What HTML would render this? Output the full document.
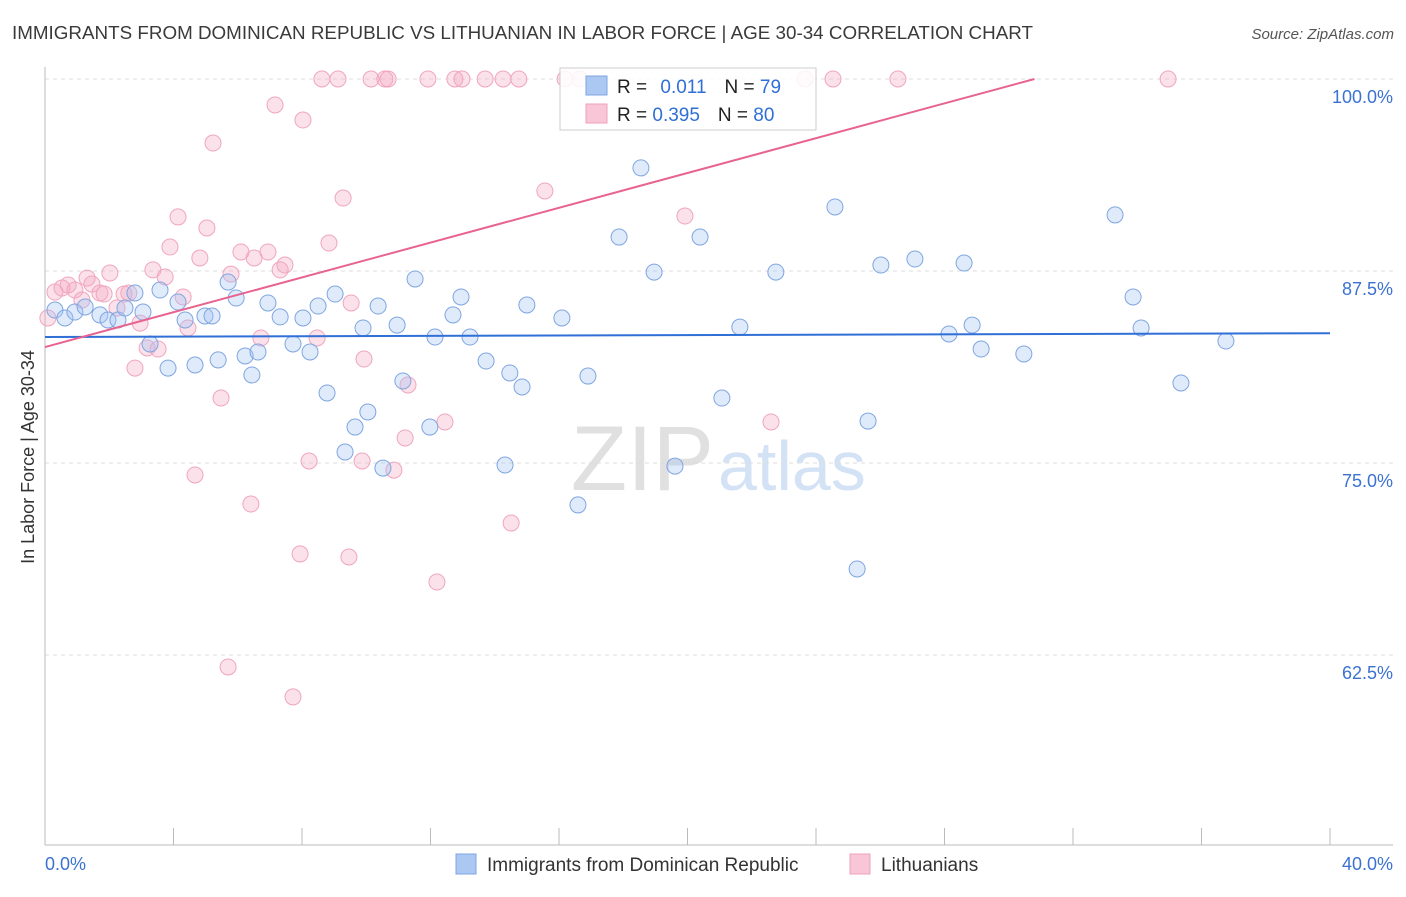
<!DOCTYPE html>
<html><head><meta charset="utf-8"><style>
body{margin:0;background:#fff;font-family:"Liberation Sans",sans-serif;}
svg text{font-family:"Liberation Sans",sans-serif;}
</style></head><body>
<svg id="chart" width="1406" height="892">
<text x="12" y="39" font-size="18" fill="#3a3a3a" textLength="1021" lengthAdjust="spacingAndGlyphs">IMMIGRANTS FROM DOMINICAN REPUBLIC VS LITHUANIAN IN LABOR FORCE | AGE 30-34 CORRELATION CHART</text>
<text x="1394" y="39" font-size="15" fill="#555" font-style="italic" text-anchor="end">Source: ZipAtlas.com</text>
<text x="714" y="490" font-size="92" fill="#e0e0e0" text-anchor="end" font-family="Liberation Serif">ZIP</text>
<text x="718" y="490" font-size="70" fill="#d3e2f5">atlas</text>
<text transform="translate(34,457) rotate(-90)" font-size="18" fill="#333" text-anchor="middle">In Labor Force | Age 30-34</text>
<g id="grid"></g><g id="pts"></g><g id="lines"></g>
<g>
<rect x="560" y="68" width="256" height="62" fill="#fff" fill-opacity="0.85" stroke="#ccc"/>
<rect x="586" y="76" width="21" height="19" fill="#aac8f2" stroke="#7fa6e0"/>
<rect x="586" y="104" width="21" height="19" fill="#f8c6d6" stroke="#f0a0bb"/>
<text x="617" y="93" font-size="19" fill="#222">R = <tspan fill="#2f6fd6" dx="8">0.011</tspan><tspan fill="#222" dx="18">N = </tspan><tspan fill="#2f6fd6">79</tspan></text>
<text x="617" y="121" font-size="19" fill="#222">R = <tspan fill="#2f6fd6">0.395</tspan><tspan fill="#222" dx="18">N = </tspan><tspan fill="#2f6fd6">80</tspan></text>
</g>
<g>
<rect x="456" y="854" width="20" height="20" fill="#aac8f2" stroke="#7fa6e0"/>
<text x="487" y="871" font-size="19" fill="#333">Immigrants from Dominican Republic</text>
<rect x="850" y="854" width="20" height="20" fill="#f8c6d6" stroke="#f0a0bb"/>
<text x="881" y="871" font-size="19" fill="#333">Lithuanians</text>
</g>
</svg>
<script>
const yTicks=[100,87.5,75,62.5];
const yTickLabels=["100.0%","87.5%","75.0%","62.5%"];
const xTickLabels=["0.0%","40.0%"];
const blueX=[.31,.62,.93,1.25,1.71,1.96,2.27,2.49,2.80,3.05,3.27,3.58,3.83,4.14,4.36,4.67,4.98,5.20,5.39,5.70,5.95,6.23,6.44,6.63,6.94,7.32,7.72,8.03,8.25,8.50,8.78,9.03,9.34,9.65,9.90,10.05,10.37,10.52,10.96,11.14,11.52,11.98,12.14,12.70,12.95,13.23,13.73,14.32,14.47,14.85,15.00,16.09,16.59,16.90,17.87,18.55,18.96,19.61,20.39,21.07,21.63,22.75,24.59,25.62,25.28,26.02,27.08,28.14,28.61,28.86,29.14,30.47,33.31,33.87,34.12,35.36,36.76];
const blueY=[84.96,84.44,84.83,85.16,84.64,84.31,84.31,85.09,86.07,84.83,82.75,86.26,81.18,85.48,84.31,81.38,84.57,84.57,81.71,86.78,85.74,81.97,80.73,82.23,85.42,84.51,82.75,84.44,82.23,85.22,79.56,86.00,75.72,77.34,83.79,78.32,85.22,74.67,83.98,80.34,86.98,77.34,83.20,84.64,85.81,83.20,81.64,74.87,80.86,79.95,85.29,84.44,72.27,80.66,89.71,94.21,87.43,74.80,89.71,79.23,83.85,87.43,91.67,77.73,68.10,87.89,88.28,83.40,88.02,83.98,82.42,82.10,91.15,85.81,83.79,80.21,82.94];
const pinkX=[.09,.31,.53,.72,.93,1.15,1.31,1.46,1.71,1.84,2.02,2.24,2.46,2.61,2.80,2.96,3.18,3.36,3.52,3.74,3.89,4.14,4.30,4.45,4.67,4.82,5.04,5.23,5.48,5.70,5.79,6.10,6.41,6.51,6.72,6.94,7.16,7.32,7.47,7.72,7.94,8.03,8.22,8.47,8.62,9.12,9.28,9.46,9.53,8.84,9.87,9.93,10.15,10.58,10.68,10.86,11.21,11.30,11.92,12.20,12.45,12.76,12.98,13.70,14.26,14.51,14.75,15.56,16.19,16.65,19.92,22.60,23.66,24.53,26.55,34.96];
const pinkY=[84.44,86.13,86.39,86.59,86.26,85.61,87.04,86.65,86.07,86.00,87.37,85.09,86.00,86.07,81.18,84.11,82.49,87.57,82.42,87.11,89.06,91.02,85.81,83.79,74.22,88.35,90.30,95.83,79.23,61.72,87.30,88.74,72.33,88.35,83.14,88.74,98.31,87.57,87.89,59.77,69.08,97.33,75.13,83.14,100,100,92.25,68.88,85.42,89.32,75.13,81.77,100,100,100,74.54,76.63,80.08,100,67.25,77.67,100,100,100,100,71.09,100,92.71,100,100,91.08,77.67,100,100,100,100];
const blueTrend=[83.2,83.45];
const pinkTrend=[82.55,100];
const pinkTrendEndX=30.8;
const NS="http://www.w3.org/2000/svg";
const X0=45,X1=1330,Y100=79,PX=15.36;
const xs=v=>X0+(v/40)*(X1-X0);
const ys=v=>Y100+(100-v)*PX;
function mk(t,a,p){const e=document.createElementNS(NS,t);for(const k in a)e.setAttribute(k,a[k]);p.appendChild(e);return e;}
const grid=document.getElementById('grid');
yTicks.forEach((t,i)=>{
 const g=mk('line',{x1:X0,x2:1393,y1:ys(t),y2:ys(t),stroke:'#ddd','stroke-dasharray':'4,4'},grid);
 
 
 const l=mk('text',{x:1393,y:ys(t)+24,'font-size':18,fill:'#3b72d1','text-anchor':'end'},grid);
 l.textContent=yTickLabels[i];
 
 
});
const ax=mk('line',{x1:X0,x2:1393,y1:845,y2:845,stroke:'#bbb'},grid);


const yax=mk('line',{x1:X0,x2:X0,y1:67,y2:845,stroke:'#bbb'},grid);


for(let i=0;i<=10;i++){const t=mk('line',{x1:xs(i*4),x2:xs(i*4),y1:828,y2:845,stroke:'#bbb'},grid);
 
 }
[[0,'start',45],[1,'end',1393]].forEach(([i,a,x])=>{const t=mk('text',{x:x,y:870,'font-size':18,fill:'#3b72d1','text-anchor':a},grid);t.textContent=xTickLabels[i];
 
 });
const pts=document.getElementById('pts');
pinkX.forEach((v,i)=>{const c=mk('circle',{cx:xs(v),cy:ys(pinkY[i]),r:8,fill:'rgba(244,170,195,0.35)',stroke:'#f0a5bf','stroke-width':1},pts);
 
 });
blueX.forEach((v,i)=>{const c=mk('circle',{cx:xs(v),cy:ys(blueY[i]),r:8,fill:'rgba(164,194,244,0.35)',stroke:'#7fa6e0','stroke-width':1},pts);
 
 });
const lines=document.getElementById('lines');
const bl=mk('line',{x1:xs(0),y1:ys(blueTrend[0]),x2:xs(40),y2:ys(blueTrend[1]),stroke:'#2f6fd6','stroke-width':2},lines);


const pl=mk('line',{x1:xs(0),y1:ys(pinkTrend[0]),x2:xs(pinkTrendEndX),y2:ys(pinkTrend[1]),stroke:'#e8638f','stroke-width':2},lines);


</script>
</body></html>
